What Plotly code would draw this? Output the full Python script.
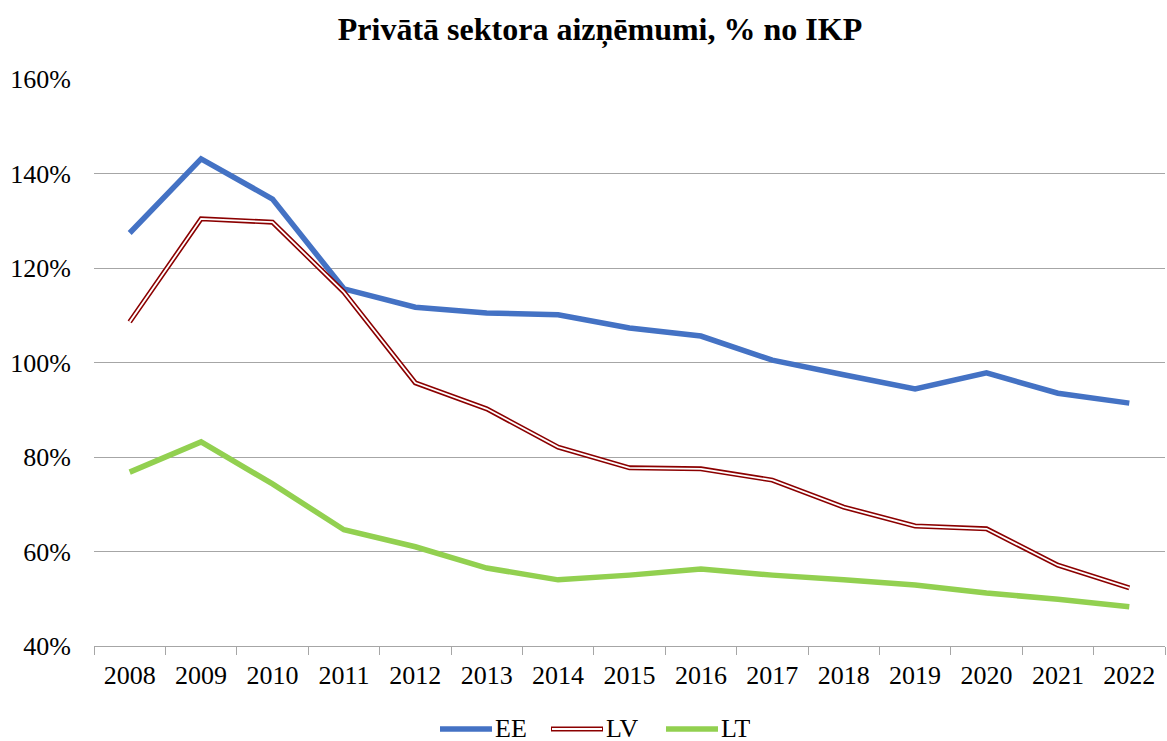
import plotly.graph_objects as go

years = [str(y) for y in range(2008, 2023)]
ee = [127.4, 143.1, 134.6, 115.6, 111.7, 110.5, 110.1, 107.3, 105.6, 100.5, 97.4, 94.4, 97.8, 93.5, 91.4]
lv = [108.6, 130.4, 129.7, 114.9, 95.7, 90.2, 82.1, 77.7, 77.5, 75.1, 69.4, 65.4, 64.8, 57.1, 52.3]
lt = [76.8, 83.2, 74.3, 64.6, 61.0, 56.5, 54.0, 55.0, 56.3, 55.0, 54.0, 52.9, 51.2, 49.9, 48.3]
y_ticks = [40, 60, 80, 100, 120, 140, 160]
y_ticktext = [f"{v}%" for v in y_ticks]

C_EE = "#4472C4"
C_LV = "#8B0000"
C_LT = "#92D050"
FONT = "Liberation Serif"

L, R, T, B = 94, 2, 79, 95
PW, PH = 1167 - L - R, 741 - T - B


def px_x(x):
    return (x - L) / PW


def px_y(y):
    return (741 - B - y) / PH


fig = go.Figure()
fig.add_trace(go.Scatter(x=years, y=ee, mode="lines", name="EE",
                         line=dict(color=C_EE, width=5.5), showlegend=False))
fig.add_trace(go.Scatter(x=years, y=lv, mode="lines", name="LV",
                         line=dict(color=C_LV, width=5), showlegend=False))
fig.add_trace(go.Scatter(x=years, y=lv, mode="lines", name="LV inner",
                         line=dict(color="white", width=1.8), showlegend=False,
                         hoverinfo="skip"))
fig.add_trace(go.Scatter(x=years, y=lt, mode="lines", name="LT",
                         line=dict(color=C_LT, width=5.5), showlegend=False))

# custom legend (to reproduce the double line of LV)
LEG_Y = 729
legend_items = [("EE", C_EE, None, 438, 497), ("LV", C_LV, "white", 549, 608), ("LT", C_LT, None, 664, 723)]
for name, col, inner, x0, xt in legend_items:
    fig.add_shape(type="line", xref="paper", yref="paper",
                  x0=px_x(x0 + 2), x1=px_x(x0 + 54),
                  y0=px_y(LEG_Y), y1=px_y(LEG_Y),
                  line=dict(color=col, width=5.5 if inner is None else 5))
    if inner:
        fig.add_shape(type="line", xref="paper", yref="paper",
                      x0=px_x(x0 + 3), x1=px_x(x0 + 53),
                      y0=px_y(LEG_Y), y1=px_y(LEG_Y),
                      line=dict(color=inner, width=1.8))
    fig.add_annotation(xref="paper", yref="paper", x=px_x(xt - 3),
                       y=px_y(LEG_Y - 1), text=name, showarrow=False,
                       xanchor="left", yanchor="middle", height=22,
                       valign="middle", borderpad=0,
                       font=dict(family=FONT, size=26, color="black"))

fig.update_layout(
    width=1167, height=741,
    paper_bgcolor="white", plot_bgcolor="white",
    margin=dict(l=L, r=R, t=T, b=B),
    title=dict(text="<b>Privātā sektora aizņēmumi, % no IKP</b>",
               x=600 / 1167, xref="container", xanchor="center",
               y=1 - 29 / 741, yref="container", yanchor="middle",
               font=dict(family=FONT, size=32, color="black")),
    font=dict(family=FONT, size=26, color="black"),
    showlegend=False,
)
fig.update_xaxes(type="category", showgrid=False, showline=True,
                 linecolor="#A6A6A6", linewidth=1.3,
                 ticks="outside", tickson="boundaries", ticklen=8,
                 tickcolor="#A6A6A6", tickwidth=1.3,
                 tickfont=dict(family=FONT, size=26, color="black"),
                 ticklabelstandoff=6, range=[-0.5, 14.5])
fig.update_yaxes(range=[40, 160], tickvals=y_ticks, ticktext=y_ticktext,
                 showgrid=True, gridcolor="#A6A6A6", gridwidth=1.3,
                 zeroline=False, showline=False, ticks="",
                 tickfont=dict(family=FONT, size=26, color="black"),
                 ticklabelstandoff=22)

fig.write_html("out.html", config={"displayModeBar": False},
               post_script="document.body.style.margin='0';")
